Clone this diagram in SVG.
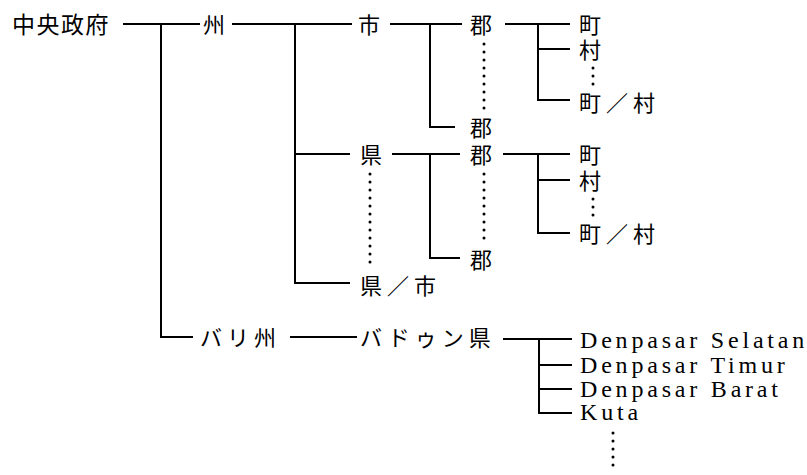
<svg xmlns="http://www.w3.org/2000/svg" width="807" height="475" viewBox="0 0 807 475">
<style>
.j{font-family:"Noto Sans CJK JP","Noto Sans CJK SC",sans-serif;font-size:22px;fill:#000;letter-spacing:5px}
.l{font-family:"Liberation Serif",serif;font-size:24px;fill:#000;letter-spacing:3.8px}
.c{stroke:#000;stroke-width:2;fill:none}
.d{stroke:#000;stroke-width:3;stroke-linecap:round;stroke-dasharray:0 8;fill:none}
</style>
<rect width="807" height="475" fill="#fff"/>
<g id="connectors">
<path class="c" d="M123 24H200M161 24V337H193"/>
<path class="c" d="M232 24H352M295 24V283H350M295 154H350"/>
<path class="c" d="M390 24H462M430 24V127H455"/>
<path class="c" d="M392 154H460M430 154V258H460"/>
<path class="c" d="M505 24H570M538 24V100H570M538 49H570"/>
<path class="c" d="M503 154H570M538 154V233H570M538 180H570"/>
<path class="c" d="M290 337H357"/>
<path class="c" d="M503 339H572M539 339V413H572M539 365H572M539 389H572"/>
<path class="d" d="M484 44V112M484 174V242M370 174V270M593 68V86M593 199V217M613 433V473"/>
</g>
<g id="n-central"><text class="j" x="12" y="33" style="font-size:23px;letter-spacing:1.5px">中央政府</text></g>
<g id="n-shu"><text class="j" x="203" y="33">州</text></g>
<g id="n-shi"><text class="j" x="358" y="33">市</text></g>
<g id="n-gun1"><text class="j" x="470" y="33">郡</text></g>
<g id="n-gun2"><text class="j" x="470" y="136">郡</text></g>
<g id="n-cho1"><text class="j" x="579" y="33">町</text></g>
<g id="n-son1"><text class="j" x="579" y="58">村</text></g>
<g id="n-chooson1"><text class="j" x="579" y="111">町／村</text></g>
<g id="n-ken"><text class="j" x="360" y="163">県</text></g>
<g id="n-gun3"><text class="j" x="470" y="163">郡</text></g>
<g id="n-gun4"><text class="j" x="470" y="268">郡</text></g>
<g id="n-cho2"><text class="j" x="579" y="163">町</text></g>
<g id="n-son2"><text class="j" x="579" y="189">村</text></g>
<g id="n-chooson2"><text class="j" x="579" y="242">町／村</text></g>
<g id="n-kenshi"><text class="j" x="360" y="294">県／市</text></g>
<g id="n-bali"><text class="j" x="200" y="346">バリ州</text></g>
<g id="n-badung"><text class="j" x="360" y="346">バドゥン県</text></g>
<g id="n-ds"><text class="l" x="580" y="348">Denpasar Selatan</text></g>
<g id="n-dt"><text class="l" x="580" y="373">Denpasar Timur</text></g>
<g id="n-db"><text class="l" x="580" y="397">Denpasar Barat</text></g>
<g id="n-kuta"><text class="l" x="580" y="420">Kuta</text></g>
</svg>
